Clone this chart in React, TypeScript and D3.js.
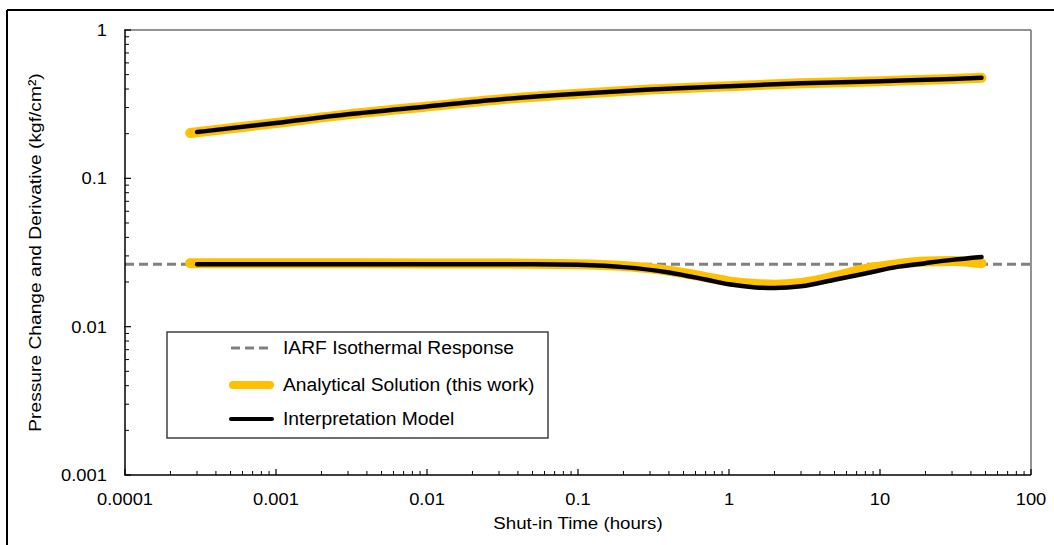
import React from "react";
import * as d3 from "d3";

// Shut-in times (hours) and responses for each curve
const analyticalTimes = [0.00027, 0.001, 0.003, 0.01, 0.03, 0.1, 0.3, 1, 3, 10, 30, 47];
const analyticalPressure = [0.202, 0.236, 0.27, 0.305, 0.34, 0.372, 0.397, 0.418, 0.437, 0.452, 0.467, 0.476];

const modelTimes = [0.0003, 0.001, 0.003, 0.01, 0.03, 0.1, 0.3, 1, 3, 10, 30, 47];
const modelPressure = [0.205, 0.236, 0.27, 0.305, 0.34, 0.372, 0.397, 0.418, 0.437, 0.452, 0.467, 0.476];

const derivTimesAnalytical = [0.00027, 0.001, 0.01, 0.05, 0.1, 0.2, 0.4, 0.7, 1.0, 1.5, 2.0, 3.0, 5.0, 8.0, 13, 20, 30, 47];
const derivAnalytical = [0.0268, 0.0268, 0.0267, 0.0266, 0.0264, 0.0256, 0.0238, 0.0216, 0.0202, 0.0194, 0.0192, 0.0197, 0.0218, 0.0245, 0.0264, 0.0275, 0.0277, 0.0268];

const derivTimesModel = [0.0003, 0.001, 0.01, 0.05, 0.1, 0.2, 0.4, 0.7, 1.0, 1.5, 2.0, 3.0, 5.0, 8.0, 13, 20, 30, 47];
const derivModel = [0.0264, 0.0264, 0.0264, 0.0264, 0.0261, 0.0252, 0.0232, 0.0208, 0.0193, 0.0184, 0.0182, 0.0187, 0.0207, 0.0228, 0.0253, 0.0268, 0.0282, 0.0295];

const iarfLevel = 0.0264;

const xTicks = [0.0001, 0.001, 0.01, 0.1, 1, 10, 100];
const xTickLabels = ["0.0001", "0.001", "0.01", "0.1", "1", "10", "100"];
const yTicks = [0.001, 0.01, 0.1, 1];
const yTickLabels = ["0.001", "0.01", "0.1", "1"];

const legendItems = ["IARF Isothermal Response", "Analytical Solution (this work)", "Interpretation Model"];

const W = 1054;
const H = 545;
const plot = { left: 125, right: 1031, top: 30, bottom: 475 };
const FONT = "'Liberation Sans', Arial, Helvetica, sans-serif";
const ORANGE = "#FFC000";

// Text with a slight horizontal stretch along its reading direction
function Label(props: {
  x: number;
  y: number;
  size: number;
  stretch: number;
  anchor?: "start" | "middle" | "end";
  rotate?: number;
  children: React.ReactNode;
}) {
  const { x, y, size, stretch, anchor = "start", rotate = 0, children } = props;
  return (
    <text
      transform={`translate(${x},${y}) rotate(${rotate}) scale(${stretch},1)`}
      textAnchor={anchor}
      fontSize={size}
      fill="#000"
    >
      {children}
    </text>
  );
}

export default function App() {
  const x = d3.scaleLog().domain([0.0001, 100]).range([plot.left, plot.right]);
  const y = d3.scaleLog().domain([0.001, 1]).range([plot.bottom, plot.top]);

  const line = d3
    .line<[number, number]>()
    .x((d) => x(d[0]))
    .y((d) => y(d[1]))
    .curve(d3.curveMonotoneX);

  const zip = (ts: number[], vs: number[]) => ts.map((t, i) => [t, vs[i]] as [number, number]);

  // minor ticks at 2..9 of each decade
  const xMinor: number[] = [];
  for (let e = -4; e < 2; e++) for (let m = 2; m <= 9; m++) xMinor.push(m * Math.pow(10, e));
  const yMinor: number[] = [];
  for (let e = -3; e < 0; e++) for (let m = 2; m <= 9; m++) yMinor.push(m * Math.pow(10, e));

  const legend = { x: 167, y: 332, w: 381, h: 106 };
  const rowY = [348, 385, 419];

  return (
    <svg
      width={W}
      height={H}
      style={{ position: "absolute", left: 0, top: 0, background: "#fff" }}
      fontFamily={FONT}
    >
      <rect x={0} y={0} width={W} height={H} fill="#fff" />
      {/* outer frame */}
      <line x1={7} y1={10} x2={W} y2={10} stroke="#000" strokeWidth={2} />
      <line x1={7} y1={10} x2={7} y2={H} stroke="#000" strokeWidth={2} />

      {/* plot frame */}
      <line x1={plot.left} y1={plot.top} x2={plot.right} y2={plot.top} stroke="#6e6e6e" strokeWidth={1.5} />
      <line x1={plot.right} y1={plot.top} x2={plot.right} y2={plot.bottom} stroke="#6e6e6e" strokeWidth={1.5} />

      {/* IARF reference line */}
      <line
        x1={plot.left}
        x2={plot.right}
        y1={y(iarfLevel)}
        y2={y(iarfLevel)}
        stroke="#808080"
        strokeWidth={3}
        strokeDasharray="9 5"
      />

      {/* analytical solution */}
      <path d={line(zip(analyticalTimes, analyticalPressure)) || ""} fill="none" stroke={ORANGE} strokeWidth={10} strokeLinecap="round" />
      <path d={line(zip(derivTimesAnalytical, derivAnalytical)) || ""} fill="none" stroke={ORANGE} strokeWidth={10} strokeLinecap="round" />

      {/* interpretation model */}
      <path d={line(zip(modelTimes, modelPressure)) || ""} fill="none" stroke="#000" strokeWidth={4.5} strokeLinecap="round" />
      <path d={line(zip(derivTimesModel, derivModel)) || ""} fill="none" stroke="#000" strokeWidth={4.5} strokeLinecap="round" />

      {/* axes */}
      <line x1={plot.left} y1={plot.top} x2={plot.left} y2={plot.bottom} stroke="#000" strokeWidth={1.5} />
      <line x1={plot.left} y1={plot.bottom} x2={plot.right} y2={plot.bottom} stroke="#000" strokeWidth={1.5} />

      {xMinor.map((t, i) => (
        <line key={"xm" + i} x1={x(t)} x2={x(t)} y1={plot.bottom} y2={plot.bottom - 4} stroke="#000" strokeWidth={1} />
      ))}
      {xTicks.map((t, i) => (
        <g key={"xt" + i}>
          <line x1={x(t)} x2={x(t)} y1={plot.bottom} y2={plot.bottom - 6} stroke="#000" strokeWidth={1.2} />
          <Label x={x(t)} y={505} size={17} stretch={1.08} anchor="middle">
            {xTickLabels[i]}
          </Label>
        </g>
      ))}
      {yMinor.map((v, i) => (
        <line key={"ym" + i} x1={plot.left} x2={plot.left + 4} y1={y(v)} y2={y(v)} stroke="#000" strokeWidth={1} />
      ))}
      {yTicks.map((v, i) => (
        <g key={"yt" + i}>
          <line x1={plot.left - 1} x2={plot.left + 6} y1={y(v)} y2={y(v)} stroke="#000" strokeWidth={1.2} />
          <Label x={107} y={y(v) + 6} size={17} stretch={1.08} anchor="end">
            {yTickLabels[i]}
          </Label>
        </g>
      ))}

      {/* axis titles */}
      <Label x={(plot.left + plot.right) / 2} y={529} size={17} stretch={1.1} anchor="middle">
        Shut-in Time (hours)
      </Label>
      <Label x={41} y={(plot.top + plot.bottom) / 2} size={17} stretch={1.13} anchor="middle" rotate={-90}>
        Pressure Change and Derivative (kgf/cm²)
      </Label>

      {/* legend */}
      <rect x={legend.x} y={legend.y} width={legend.w} height={legend.h} fill="#fff" stroke="#404040" strokeWidth={1.5} />
      <line x1={231} x2={269} y1={rowY[0]} y2={rowY[0]} stroke="#808080" strokeWidth={3} strokeDasharray="9 5" />
      <line x1={233} x2={270} y1={rowY[1]} y2={rowY[1]} stroke={ORANGE} strokeWidth={8} strokeLinecap="round" />
      <line x1={231} x2={272} y1={rowY[2]} y2={rowY[2]} stroke="#000" strokeWidth={4} strokeLinecap="round" />
      {legendItems.map((s, i) => (
        <Label key={"lg" + i} x={283} y={rowY[i] + 6} size={18} stretch={1.07}>
          {s}
        </Label>
      ))}
    </svg>
  );
}
